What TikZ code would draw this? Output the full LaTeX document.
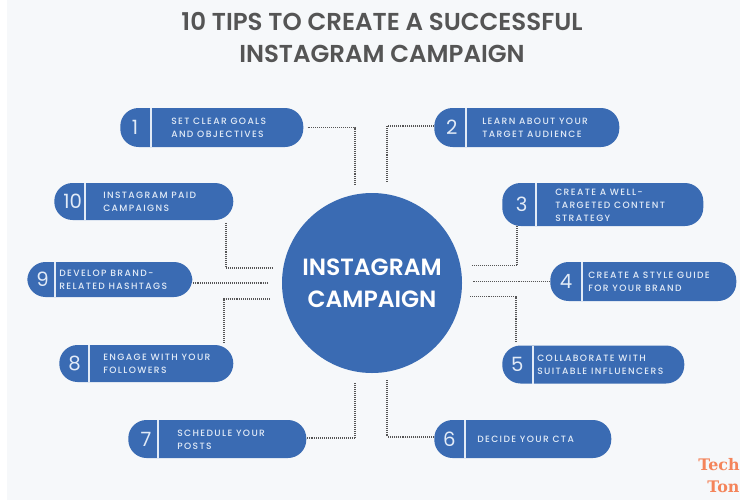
\documentclass[tikz,border=0pt]{standalone}
\usepackage{fontspec}
\setmainfont{Poppins}
\newfontfamily\semifont{Poppins SemiBold}
\newfontfamily\mediumfont[LetterSpace = 15]{Poppins Medium}
\newfontfamily\markfont{DejaVu Serif}
\definecolor{tipBlue}{HTML}{3A6BB3}
\definecolor{tipText}{HTML}{E2EBF7}
\definecolor{panelGray}{HTML}{F6F8FA}
\definecolor{titleGray}{HTML}{555555}
\definecolor{markOrange}{HTML}{F4845A}
\tikzset{
	tipPill/.style = {fill = tipBlue, draw = none, rounded corners = 13pt, inner sep = 0pt},
	tipNum/.style = {text = tipText, font = \fontsize{14}{14}\selectfont},
	tipText/.style = {text = tipText, align = left, anchor = west, font = \mediumfont\fontsize{6.5}{9.2}\selectfont},
	tipRule/.style = {draw = tipText, line width = 1.2pt},
	tipLink/.style = {draw = titleGray, line width = 1.2pt, dash pattern = on 0.7pt off 0.7pt}
}
\begin{document}
\begin{tikzpicture}[x = 0.025cm, y = -0.025cm]

	% page and panel
	\useasboundingbox (0, 0) rectangle (740, 500);
	\fill[white] (0, 0) rectangle (740, 500);
	\fill[panelGray] (7, 0) rectangle (740, 500);

	% title
	\node[text = titleGray, font = \semifont\fontsize{17.4}{23.4}\selectfont, align = center] (title) at (382, 37.5) {10 TIPS TO CREATE A SUCCESSFUL\\INSTAGRAM CAMPAIGN};

	% blue circle in the middle
	\node[circle, fill = tipBlue, minimum size = 180 * 0.025cm, inner sep = 0pt, text = white, align = center, font = \semifont\fontsize{16.7}{22.7}\selectfont] (hub) at (372, 283) {INSTAGRAM\\CAMPAIGN};

	% pills, each with its number, rule and text
	\foreach \tipName/\x/\y/\w/\h/\rule/\numx/\textx/\tiptext in {
		1/120/127.5/183/39/151/135/171/{SET CLEAR GOALS\\AND OBJECTIVES},
		2/434/127.5/185/39/466/451.7/482/{LEARN ABOUT YOUR\\TARGET AUDIENCE},
		3/502/204.5/201/43/536/521.7/555/{CREATE A WELL-\\TARGETED CONTENT\\STRATEGY},
		4/550/281.5/186/39/582/566/588/{CREATE A STYLE GUIDE\\FOR YOUR BRAND},
		5/502/364.5/182/38/533/517.3/537/{COLLABORATE WITH\\SUITABLE INFLUENCERS},
		6/434/439/177/38/465/449.3/477/{DECIDE YOUR CTA},
		7/128/439/178/38/158/146/177/{SCHEDULE YOUR\\POSTS},
		8/59/363.5/174/37/89/74.7/103/{ENGAGE WITH YOUR\\FOLLOWERS},
		9/27/279.5/165/35/55/42.7/59/{DEVELOP BRAND-\\RELATED HASHTAGS},
		10/54/201.5/179/37/85/72.7/103/{INSTAGRAM PAID\\CAMPAIGNS}%
	}{
		\node[tipPill, minimum width = \w * 0.025cm, minimum height = \h * 0.025cm, anchor = west] (tip\tipName) at (\x, \y) {};
		\draw[tipRule] (\rule, \y - \h / 2) -- (\rule, \y + \h / 2);
		\node[tipNum] (num\tipName) at (\numx, \y) {\tipName};
		\node[tipText, inner sep = 0pt] (label\tipName) at (\textx, \y + 0.7) {\tiptext};
	}

	% free ends of the dotted links
	\coordinate (end1) at (355, 185);
	\coordinate (end2) at (387, 182);
	\coordinate (end3) at (472, 265.5);
	\coordinate (end4) at (473, 281.5);
	\coordinate (end5) at (470, 296.5);
	\coordinate (end6) at (387, 380);
	\coordinate (end7) at (355, 383);
	\coordinate (end8) at (270, 299);
	\coordinate (end9) at (269, 283);
	\coordinate (end10) at (272, 268);
	\coordinate (knee2) at (387, 125.7);
	\coordinate (knee3) at (516.7, 265.5);
	\coordinate (knee5) at (515.7, 296.5);
	\coordinate (knee6) at (387, 436.7);
	\coordinate (knee7) at (355, 438.3);
	\coordinate (knee8) at (224, 299);
	\coordinate (knee10) at (226, 268);

	% dotted links
	\draw[tipLink, shorten <= 2.8pt] (tip1.east) -| (end1);
	\draw[tipLink] (tip2.west |- knee2) -- (knee2) -- (end2);
	\draw[tipLink] (tip3.south -| knee3) -- (knee3) -- (end3);
	\draw[tipLink] (tip4.west) -- (end4);
	\draw[tipLink, shorten <= 2.2pt] (tip5.north -| knee5) -- (knee5) -- (end5);
	\draw[tipLink] (tip6.west |- knee6) -- (knee6) -- (end6);
	\draw[tipLink] (tip7.east |- knee7) -- (knee7) -- (end7);
	\draw[tipLink, shorten <= 1.5pt] (tip8.north -| knee8) -- (knee8) -- (end8);
	\draw[tipLink] (tip9.east |- end9) -- (end9);
	\draw[tipLink, shorten <= 1.9pt] (tip10.south -| knee10) -- (knee10) -- (end10);

	% watermark at the page edge
	\node[text = markOrange, anchor = west, inner sep = 0pt, font = \markfont\bfseries\fontsize{11.3}{11.3}\selectfont] (markOne) at (698, 465) {Tech};
	\node[text = markOrange, anchor = west, inner sep = 0pt, font = \markfont\bfseries\fontsize{11.3}{11.3}\selectfont] (markTwo) at (707, 487) {Ton};

\end{tikzpicture}
\end{document}
